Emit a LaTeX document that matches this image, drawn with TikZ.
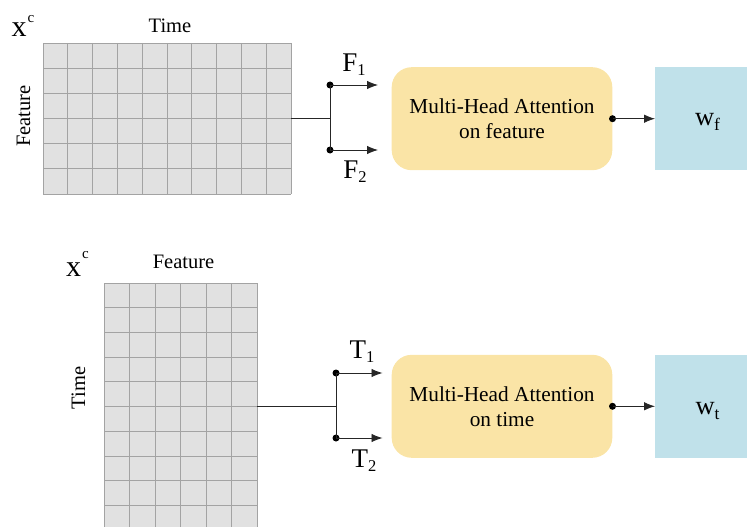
\documentclass[tikz,border=0pt]{standalone}
\usepackage{fontspec}
\setmainfont{Liberation Serif}
\usetikzlibrary{arrows.meta}
\definecolor{cellfill}{HTML}{E1E1E1}
\definecolor{cellline}{HTML}{A3A3A3}
\definecolor{linecol}{HTML}{262626}
\definecolor{attnyellow}{HTML}{FAE4A6}
\definecolor{outblue}{HTML}{C0E1EA}
% symbol with a lowered subscript: {main}{sub}
\newcommand{\symsub}[2]{{\fontsize{27}{27}\selectfont #1}\raisebox{-4pt}{\fontsize{16.5}{16.5}\selectfont #2}}
\newcommand{\wsub}[1]{{\fontsize{26.5}{26.5}\selectfont w}\raisebox{-5pt}{\fontsize{17.5}{17.5}\selectfont #1}}
% x with superscript c, raised by #1
\newcommand{\xsup}[1]{{\fontsize{30}{30}\selectfont x}\kern1pt\raisebox{#1}{\fontsize{15}{15}\selectfont c}}
\begin{document}
\begin{tikzpicture}[x=1pt,y=-1pt,
  conn/.style={draw=linecol, line width=0.9pt},
  arr/.style={conn, -{Latex[length=11pt,width=8.5pt]}},
  dotnode/.style={circle, fill=black, inner sep=0pt, minimum size=7pt},
  attbox/.style={fill=attnyellow, rounded corners=20pt, minimum width=220.6pt,
    minimum height=103pt, align=center, inner sep=0pt,
    font=\fontsize{21.3}{25}\selectfont},
  outbox/.style={fill=outblue, minimum width=106pt, minimum height=103pt, inner sep=0pt},
  lbl/.style={inner sep=0pt, anchor=base},
  axis/.style={inner sep=0pt, anchor=base, font=\fontsize{20.5}{24}\selectfont},
  gridframe/.style={inner sep=0pt},
  gridline/.style={draw=cellline, line width=0.8pt}
]
\useasboundingbox (0,0) rectangle (747,527);
\clip (0,0) rectangle (747,527);

% ---------- feature-wise branch ----------
\fill[cellfill] (43,43) rectangle (291,194);
\foreach \i in {0,...,10} \draw[gridline] ({43+24.8*\i},43) -- ({43+24.8*\i},194);
\foreach \j in {0,...,6} \draw[gridline] (43,{43+151/6*\j}) -- (291,{43+151/6*\j});
\node[gridframe, minimum width=248pt, minimum height=151pt] (gridF) at (167,118.5) {};

\node[lbl] (xcF) at (23,36.7) {\xsup{14pt}};
\node[axis] (timeF) at (170,33) {Time};
\node[axis, rotate=90] (featF) at (30,116) {Feature};

\coordinate (sF) at (330,118.5);
\node[dotnode] (f1) at (330,85) {};
\node[dotnode] (f2) at (330,150) {};
\node[attbox] (attF) at (502,118.7) {Multi-Head Attention\\on feature};
\node[outbox, anchor=west] (outF) at (655,118.7) {};
\node[lbl] (wF) at (707.5,125) {\wsub{f}};

\draw[conn] (gridF.east) -- (sF);
\draw[conn] (f1.center) -- (f2.center);
\draw[arr, shorten >=13.5pt] (f1.center) -- (f1 -| attF.west);
\draw[arr, shorten >=13.5pt] (f2.center) -- (f2 -| attF.west);
\node[lbl] (F1) at (354,71.7) {\symsub{F}{1}};
\node[lbl] (F2) at (355,178) {\symsub{F}{2}};
\node[dotnode] (dF) at (attF.east) {};
\draw[arr] (attF.east) -- (outF.west);

% ---------- time-wise branch ----------
\fill[cellfill] (104,283) rectangle (257,530);
\foreach \i in {0,...,6} \draw[gridline] ({104+25.5*\i},283) -- ({104+25.5*\i},530);
\foreach \j in {0,...,10} \draw[gridline] (104,{283+24.7*\j}) -- (257,{283+24.7*\j});
\node[gridframe, minimum width=153pt, minimum height=247pt] (gridT) at (180.5,406.5) {};

\node[lbl] (xcT) at (77.5,276.7) {\xsup{18pt}};
\node[axis] (featT) at (183.5,268) {Feature};
\node[axis, rotate=90] (timeT) at (85,388) {Time};

\coordinate (sT) at (336,406.5);
\node[dotnode] (t1) at (336,373) {};
\node[dotnode] (t2) at (336,438) {};
\node[attbox] (attT) at (502,406.3) {Multi-Head Attention\\on time};
\node[outbox, anchor=west] (outT) at (655,406.3) {};
\node[lbl] (wT) at (707.5,414) {\wsub{t}};

\draw[conn] (gridT.east) -- (sT);
\draw[conn] (t1.center) -- (t2.center);
\draw[arr, shorten >=9pt] (t1.center) -- (t1 -| attT.west);
\draw[arr, shorten >=9pt] (t2.center) -- (t2 -| attT.west);
\node[lbl] (T1) at (362,358) {\symsub{T}{1}};
\node[lbl] (T2) at (364,467) {\symsub{T}{2}};
\node[dotnode] (dT) at (attT.east) {};
\draw[arr] (attT.east) -- (outT.west);
\end{tikzpicture}
\end{document}
